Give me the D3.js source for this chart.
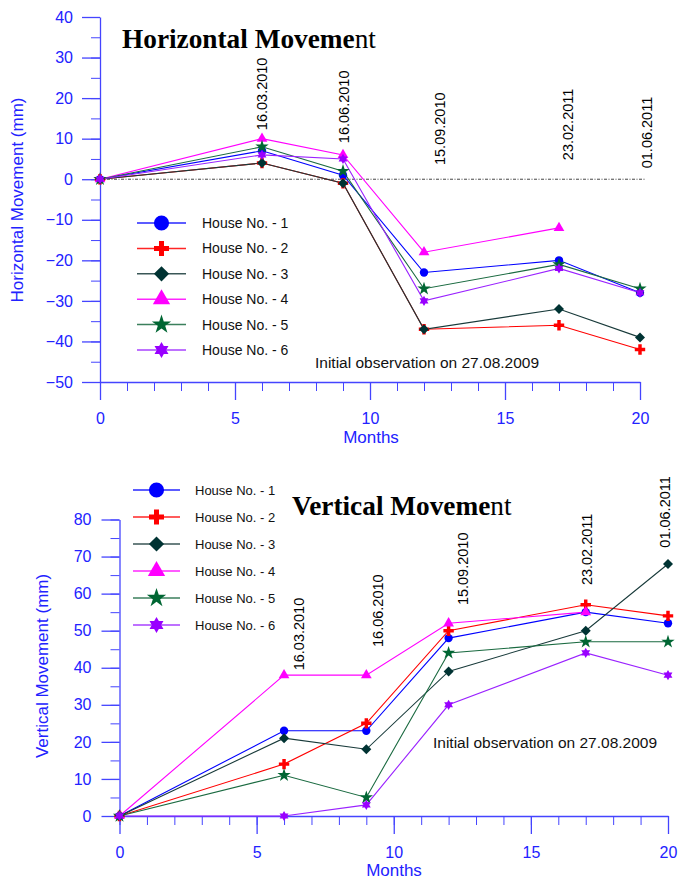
<!DOCTYPE html>
<html><head><meta charset="utf-8">
<script src="https://cdn.jsdelivr.net/npm/d3@7/dist/d3.min.js"></script>
<style>
html,body{margin:0;padding:0;background:#fff;}
svg{display:block;font-family:"Liberation Sans",Arial,sans-serif;}
</style></head>
<body>
<svg id="chart" width="678" height="881"></svg>
<script>
// ---------- DATA ----------
const months = [0, 6, 9, 12, 17, 20];
const houseNames = ["House No. - 1","House No. - 2","House No. - 3","House No. - 4","House No. - 5","House No. - 6"];
const dateLabels = ["16.03.2010","16.06.2010","15.09.2010","23.02.2011","01.06.2011"];
const observationNote = "Initial observation on 27.08.2009";

// Horizontal movement (mm)
const horiz1 = [0, 7, 1, -23, -20, -28];
const horiz2 = [0, 4, -1, -37, -36, -42];
const horiz3 = [0, 4, -1, -37, -32, -39];
const horiz4 = [0, 10, 6, -18, -12, null];
const horiz5 = [0, 8, 2, -27, -21, -27];
const horiz6 = [0, 6, 5, -30, -22, -28];

// Vertical movement (mm)
const vert1 = [0, 23, 23, 48, 55, 52];
const vert2 = [0, 14, 25, 50, 57, 54];
const vert3 = [0, 21, 18, 39, 50, 68];
const vert4 = [0, 38, 38, 52, 55, null];
const vert5 = [0, 11, 5, 44, 47, 47];
const vert6 = [0, 0, 3, 30, 44, 38];

const hTicks = [-50,-40,-30,-20,-10,0,10,20,30,40];
const vTicks = [0,10,20,30,40,50,60,70,80];
const xTicks = [0,5,10,15,20];

// ---------- STYLE ----------
const colors = ["#0000ff","#ff0000","#003333","#ff00ff","#006633","#9900ff"];
const lineColors = ["#0000ff","#ff0000","#183a3a","#ff00ff","#1a6a40","#9a22ff"];
const axisColor = "#4444ff";
const textBlue = "#2222ff";

const diamond = {draw(ctx, size){const r=Math.sqrt(size)/Math.SQRT2; ctx.moveTo(0,-r);ctx.lineTo(r,0);ctx.lineTo(0,r);ctx.lineTo(-r,0);ctx.closePath();}};
const hexagram = {draw(ctx, size){const r=Math.sqrt(size/2.3);
  for(const off of [-90,90]){for(let i=0;i<3;i++){const a=(off+i*120)*Math.PI/180; const x=r*Math.cos(a), y=r*Math.sin(a); if(i===0)ctx.moveTo(x,y); else ctx.lineTo(x,y);} ctx.closePath();}}};
const symbols = [d3.symbolCircle, d3.symbolCross, diamond, d3.symbolTriangle, d3.symbolStar, hexagram];
const dataSizes = [55, 60, 50, 50, 55, 60];
const legendSizes = [180, 125, 115, 130, 115, 150];

const svg = d3.select("#chart");

function drawChart(cfg){
  const g = svg.append("g");
  const x = d3.scaleLinear().domain([0,20]).range(cfg.xRange);
  const y = d3.scaleLinear().domain(cfg.yDomain).range(cfg.yRange);
  const y0 = cfg.yRange[0];

  // minor ticks
  g.append("g").attr("transform",`translate(0,${y0})`)
    .call(d3.axisBottom(x).tickValues(d3.range(0,21,1)).tickSize(9).tickFormat(""))
    .call(a=>a.select(".domain").remove())
    .call(a=>a.selectAll("line").attr("stroke",axisColor));
  g.append("g").attr("transform",`translate(${cfg.xRange[0]},0)`)
    .call(d3.axisLeft(y).tickValues(d3.range(cfg.yDomain[0],cfg.yDomain[1]+1,5)).tickSize(9).tickFormat(""))
    .call(a=>a.select(".domain").remove())
    .call(a=>a.selectAll("line").attr("stroke",axisColor));
  // major axes
  const xa = g.append("g").attr("transform",`translate(0,${y0})`)
    .call(d3.axisBottom(x).tickValues(xTicks).tickSize(18).tickSizeOuter(0).tickPadding(13));
  const ya = g.append("g").attr("transform",`translate(${cfg.xRange[0]},0)`)
    .call(d3.axisLeft(y).tickValues(cfg.yTicks).tickSize(18).tickSizeOuter(0).tickPadding(cfg.yPad));
  for(const a of [xa,ya]){
    a.select(".domain").attr("stroke",axisColor).attr("stroke-width",1.3);
    a.selectAll("line").attr("stroke",axisColor).attr("stroke-width",1.3);
    a.selectAll("text").attr("fill",textBlue).attr("font-size",16).attr("font-family","Liberation Sans, Arial");
  }

  // axis titles
  g.append("text").attr("x",cfg.xTitle[0]).attr("y",cfg.xTitle[1]).attr("text-anchor","middle")
    .attr("fill",textBlue).attr("font-size",17).text("Months");
  g.append("text").attr("transform",`translate(${cfg.yTitle[0]},${cfg.yTitle[1]}) rotate(-90)`)
    .attr("text-anchor","middle").attr("fill",textBlue).attr("font-size",17).text(cfg.yLabel);

  // zero reference line
  if(cfg.zeroLine){
    g.append("line").attr("x1",x(0)).attr("x2",x(20.2)).attr("y1",y(0)).attr("y2",y(0))
      .attr("stroke","#444").attr("stroke-width",1).attr("stroke-dasharray","3,1.5,1,1.5");
  }

  // title
  const t = g.append("text").attr("x",cfg.title[0]).attr("y",cfg.title[1])
    .attr("font-family","Liberation Serif, Times New Roman, serif").attr("font-size",27.3).attr("fill","#000");
  t.append("tspan").attr("font-weight","bold").text(cfg.titleText.slice(0,-2));
  t.append("tspan").text(cfg.titleText.slice(-2));

  // date labels
  dateLabels.forEach((d,i)=>{
    const p = cfg.datePos[i];
    g.append("text").attr("transform",`translate(${x(p[0])},${y(p[1])}) rotate(-90)`)
      .attr("dy","0.36em").attr("font-size",14.5).attr("fill","#000").text(d);
  });

  // note
  g.append("text").attr("x",cfg.note[0]).attr("y",cfg.note[1]).attr("font-size",15.5).attr("fill","#111").text(observationNote);

  // series
  const line = d3.line().defined(d=>d[1]!==null).x(d=>x(d[0])).y(d=>y(d[1]));
  cfg.series.forEach((vals,i)=>{
    const pts = months.map((m,k)=>[m,vals[k]]);
    g.append("path").attr("d",line(pts)).attr("fill","none").attr("stroke",lineColors[i]).attr("stroke-width",1.1);
  });
  cfg.series.forEach((vals,i)=>{
    const pts = months.map((m,k)=>[m,vals[k]]).filter(d=>d[1]!==null);
    g.selectAll(null).data(pts).join("path")
      .attr("transform",d=>`translate(${x(d[0])},${y(d[1])})`)
      .attr("d",d3.symbol().type(symbols[i]).size(dataSizes[i]))
      .attr("fill",colors[i]);
  });

  // legend
  houseNames.forEach((n,i)=>{
    const ly = cfg.legend.y + i*cfg.legend.dy;
    g.append("line").attr("x1",cfg.legend.x1).attr("x2",cfg.legend.x2).attr("y1",ly).attr("y2",ly)
      .attr("stroke",lineColors[i]).attr("stroke-width",1.5).attr("opacity",0.85);
    g.append("path").attr("transform",`translate(${(cfg.legend.x1+cfg.legend.x2)/2},${ly})`)
      .attr("d",d3.symbol().type(symbols[i]).size(legendSizes[i])).attr("fill",colors[i]);
    g.append("text").attr("x",cfg.legend.tx).attr("y",ly).attr("dy","0.36em")
      .attr("font-size",cfg.legend.fs).attr("fill","#111").text(n);
  });
}

drawChart({
  xRange:[100,640], yDomain:[-50,40], yRange:[382,17], yTicks:hTicks, yPad:9,
  xTitle:[371,443], yTitle:[23,200], yLabel:"Horizontal Movement (mm)",
  zeroLine:true, title:[122,48], titleText:"Horizontal Movement",
  datePos:[[6,12.1],[9.04,8.9],[12.6,3.5],[17.33,4.7],[20.26,2.7]],
  note:[315,368],
  series:[horiz1,horiz2,horiz3,horiz4,horiz5,horiz6],
  legend:{x1:137,x2:186,y:223,dy:25.4,tx:202,fs:14}
});
drawChart({
  xRange:[119.5,668], yDomain:[0,80], yRange:[816,519.5], yTicks:vTicks, yPad:10,
  xTitle:[394,876], yTitle:[48,666], yLabel:"Vertical Movement (mm)",
  zeroLine:false, title:[292,515], titleText:"Vertical Movement",
  datePos:[[6.52,39.3],[9.42,45.6],[12.53,56.9],[17.04,62.3],[19.89,72.4]],
  note:[433,748],
  series:[vert1,vert2,vert3,vert4,vert5,vert6],
  legend:{x1:133,x2:180,y:490,dy:27,tx:195,fs:13}
});
</script>
</body></html>
